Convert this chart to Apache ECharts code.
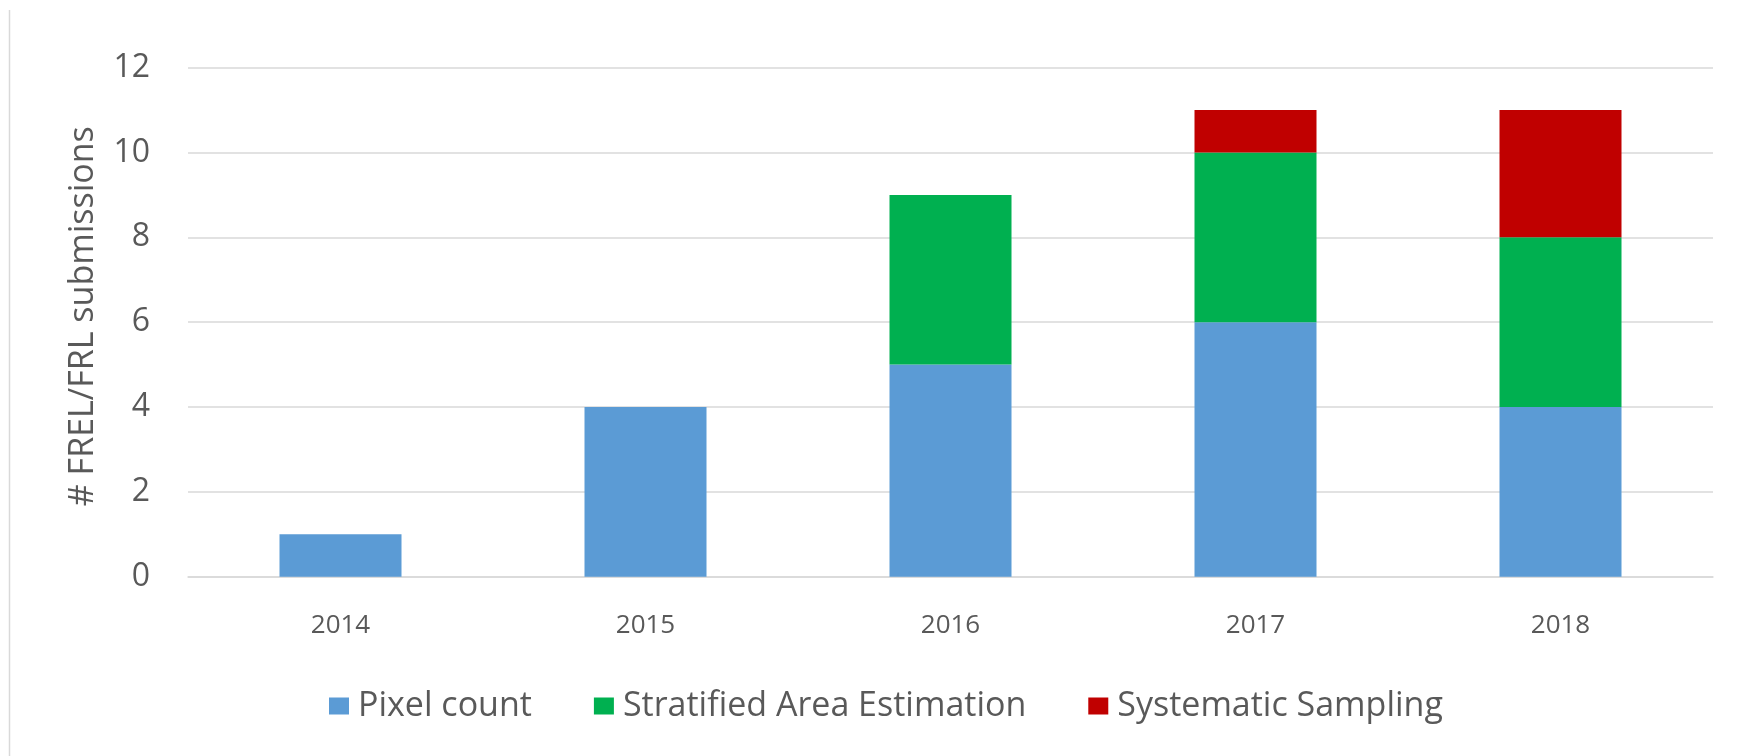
<!DOCTYPE html>
<html>
<head>
<meta charset="utf-8">
<script src="https://cdn.jsdelivr.net/npm/echarts@6/dist/echarts.min.js"></script>
<style>
html,body{margin:0;padding:0;background:#fff;}
#chart{width:1741px;height:756px;}
</style>
</head>
<body>
<div id="chart"></div>
<script>
const years = ['2014', '2015', '2016', '2017', '2018'];
const pixelCount = [1, 4, 5, 6, 4];
const stratifiedArea = [0, 0, 4, 4, 4];
const systematicSampling = [0, 0, 0, 1, 3];
const yTicks = [0, 2, 4, 6, 8, 10, 12];

const FONT = '"Open Sans", "Noto Sans", sans-serif';
const TXT = '#595959';

const chart = echarts.init(document.getElementById('chart'));
chart.setOption({
  backgroundColor: '#ffffff',
  animation: false,
  grid: { left: 188, right: 28, top: 67.7, bottom: 179.3, containLabel: false },
  legend: {
    left: 324, top: 684,
    itemWidth: 20, itemHeight: 17, itemGap: 62,
    icon: 'rect',
    textStyle: { fontFamily: FONT, fontSize: 34, color: TXT, padding: [0, 0, 0, 4] },
    data: ['Pixel count', 'Stratified Area Estimation', 'Systematic Sampling']
  },
  xAxis: {
    type: 'category', data: years,
    axisTick: { show: false },
    axisLine: { lineStyle: { color: '#D9D9D9', width: 1.5 } },
    axisLabel: { fontFamily: FONT, fontSize: 26, color: TXT, margin: 36 }
  },
  yAxis: {
    type: 'value', min: yTicks[0], max: yTicks[yTicks.length - 1], interval: 2,
    name: '# FREL/FRL submissions', nameLocation: 'middle', nameGap: 88,
    nameTextStyle: { fontFamily: FONT, fontSize: 34, color: TXT, padding: [0, 0, 0, 12] },
    axisLine: { show: false }, axisTick: { show: false },
    splitLine: { lineStyle: { color: '#D9D9D9', width: 1.5 } },
    axisLabel: { fontFamily: FONT, fontSize: 32, color: TXT, margin: 38 }
  },
  graphic: [{
    type: 'line', shape: { x1: 9.5, y1: 10, x2: 9.5, y2: 756 },
    style: { stroke: '#D9D9D9', lineWidth: 1.5 }
  }],
  series: [
    { name: 'Pixel count', type: 'bar', stack: 'a', barWidth: '40%', data: pixelCount, itemStyle: { color: '#5B9BD5' } },
    { name: 'Stratified Area Estimation', type: 'bar', stack: 'a', barWidth: '40%', data: stratifiedArea, itemStyle: { color: '#00B050' } },
    { name: 'Systematic Sampling', type: 'bar', stack: 'a', barWidth: '40%', data: systematicSampling, itemStyle: { color: '#C00000' } }
  ]
});
</script>
</body>
</html>
